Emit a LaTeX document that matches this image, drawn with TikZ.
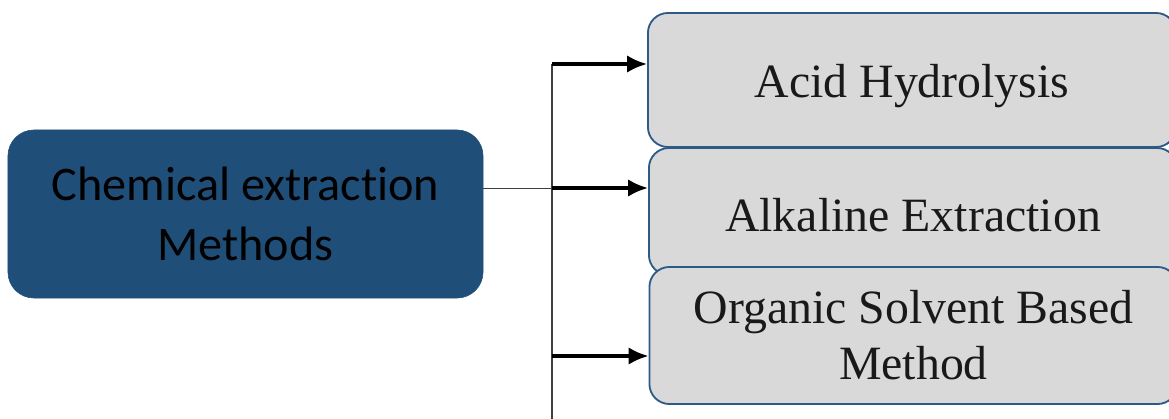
\documentclass[tikz,border=0pt]{standalone}
\usepackage{fontspec}
\setmainfont{Liberation Serif}
\newfontfamily\calibrifont[RawFeature=-liga]{Carlito}
\usetikzlibrary{positioning}
\usetikzlibrary{arrows.meta}
\definecolor{ChemColor}{HTML}{1F4E79}
\definecolor{MethColor}{HTML}{D9D9D9}
\definecolor{MethEdge}{HTML}{2E5A88}
\definecolor{LineColor}{HTML}{404040}

\begin{document}
\begin{tikzpicture}[x=0.025cm,y=-0.025cm]
\tikzstyle{chem} = [rectangle, draw=ChemColor, fill=ChemColor, minimum width=11.875cm, minimum height=4.2cm, rounded corners=0.65cm, align=center, font=\calibrifont\fontsize{34.3}{43}\selectfont, text=black]
\tikzstyle{meth} = [rectangle, draw=MethEdge, line width=1.3pt, fill=MethColor, minimum width=13.2cm, rounded corners=0.5cm, align=center, font=\fontsize{34}{40}\selectfont, text=black!90]
\tikzstyle{connector} = [draw, line width=2.4pt, -{Latex[length=5mm,width=4.4mm]}]
\tikzstyle{trunk} = [draw=LineColor, line width=1pt]

\useasboundingbox (0,0) rectangle (1169,419);

\node [chem] at (245.5,214) (chem) {Chemical extraction\\Methods};
\node [meth, minimum height=3.35cm, text height=32pt] at (912,80) (acid) {Acid Hydrolysis};
\node [meth, minimum height=3.175cm, text height=29pt] at (913,211.5) (alk) {Alkaline Extraction};
\node [meth, minimum height=3.425cm] at (913.5,335.5) (org) {Organic Solvent Based\\Method};

\coordinate (j1) at (552,64);
\coordinate (j2) at (552,188);
\coordinate (j3) at (552,356);
\coordinate (jend) at (552,425);

\path [trunk, line width=0.6pt] (chem.east |- j2) -- (j2);
\path [trunk] (j1) -- (jend);

\path [connector] (j1) -- (j1 -| acid.west);
\path [connector] (j2) -- (j2 -| alk.west);
\path [connector] (j3) -- (j3 -| org.west);

\end{tikzpicture}
\end{document}
